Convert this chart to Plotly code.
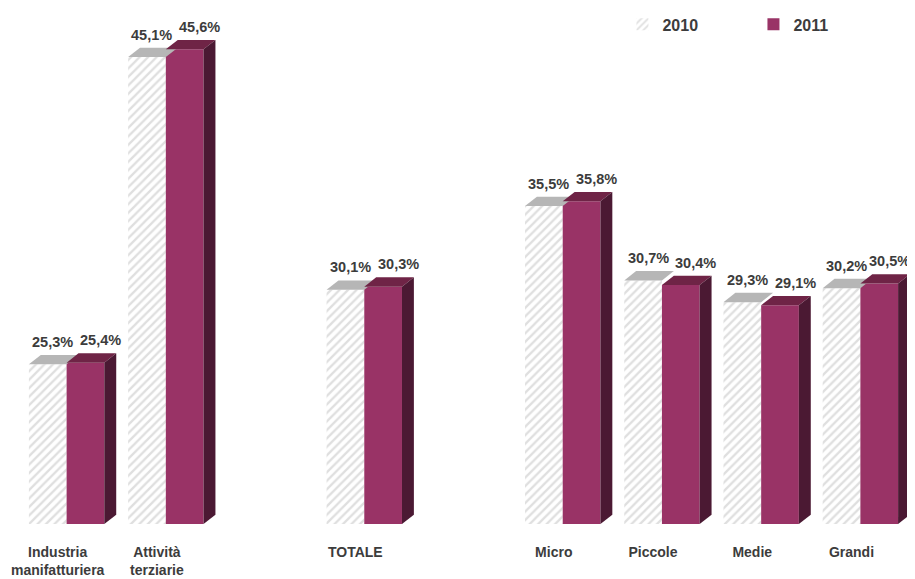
import plotly.graph_objects as go

# ---- data ----
categories = ["Industria<br>manifatturiera", "Attività<br>terziarie", "TOTALE",
              "Micro", "Piccole", "Medie", "Grandi"]
series_names = ["2010", "2011"]
values_2010 = [25.3, 45.1, 30.1, 35.5, 30.7, 29.3, 30.2]
values_2011 = [25.4, 45.6, 30.3, 35.8, 30.4, 29.1, 30.5]

# ---- layout constants ----
GAP_AFTER = {1, 2}          # empty slot inserted after these category indexes
BASE = 15.0                 # axis minimum
Y_MAX = 48.13
BW = 0.38                   # bar width (axis units)
DX, DY = 0.12, 0.6          # 3-D depth offsets
W, H = 907, 571
ML, MR, MT, MB = 9.44, 5.4, 2, 55
HATCH_BG = "white"
HATCH_FG = "#bfbfbf"
TOP_2010 = "#b6b6b6"
FRONT_2011 = "#993366"
TOP_2011 = "#6f2446"
SIDE_2011 = "#4b1933"
TXT = "#3c3c3c"
FONT = "Liberation Sans, Arial, sans-serif"

pos = []
p = 0
for i in range(len(categories)):
    pos.append(p)
    p += 2 if i in GAP_AFTER else 1

X_RANGE = [-0.5, pos[-1] + 0.5]
px_per_unit = (W - ML - MR) / (X_RANGE[1] - X_RANGE[0])

def fmt(v):
    return f"{v:.1f}".replace(".", ",") + "%"

fig = go.Figure()

def poly(xs, ys, color):
    fig.add_trace(go.Scatter(x=xs + [xs[0]], y=ys + [ys[0]], mode="lines",
                             fill="toself", fillcolor=color,
                             line=dict(width=0, color=color),
                             hoverinfo="skip", showlegend=False))

# 2010 front faces (hatched)
fig.add_trace(go.Bar(
    x=[c - BW / 2 for c in pos], y=values_2010, width=BW, name=series_names[0],
    marker=dict(color=HATCH_BG, line=dict(width=0),
                pattern=dict(shape="/", fgcolor=HATCH_FG, bgcolor=HATCH_BG,
                             size=6, solidity=0.38)),
    hovertemplate="%{y:.1f}%<extra>2010</extra>"))

# 2010 top faces
for c, v in zip(pos, values_2010):
    x0, x1 = c - BW, c
    poly([x0, x1, x1 + DX, x0 + DX], [v, v, v + DY, v + DY], TOP_2010)

# 2011 front faces
fig.add_trace(go.Bar(
    x=[c + BW / 2 for c in pos], y=values_2011, width=BW, name=series_names[1],
    marker=dict(color=FRONT_2011, line=dict(width=0)),
    hovertemplate="%{y:.1f}%<extra>2011</extra>"))

# 2011 top and side faces
for c, v in zip(pos, values_2011):
    x0, x1 = c, c + BW
    poly([x0, x1, x1 + DX, x0 + DX], [v, v, v + DY, v + DY], TOP_2011)
    poly([x1, x1 + DX, x1 + DX, x1], [BASE, BASE + DY, v + DY, v], SIDE_2011)

def label_shift(xc, wanted):
    # keep the label (about 42 px wide) inside the figure
    px = ML + (xc - X_RANGE[0]) * px_per_unit + wanted
    limit = W - 26
    return wanted - max(0, px - limit)

annotations = []
for c, v in zip(pos, values_2010):
    xc = c - BW / 2
    annotations.append(dict(x=xc, y=v + DY, text=fmt(v), showarrow=False,
                            xanchor="center", yanchor="bottom",
                            xshift=label_shift(xc, 5), yshift=3,
                            font=dict(family=FONT, size=14.5, color=TXT, weight="bold")))
for c, v in zip(pos, values_2011):
    xc = c + BW / 2
    annotations.append(dict(x=xc, y=v + DY, text=fmt(v), showarrow=False,
                            xanchor="center", yanchor="bottom",
                            xshift=label_shift(xc, 15), yshift=3,
                            font=dict(family=FONT, size=14.5, color=TXT, weight="bold")))

fig.update_layout(
    width=W, height=H,
    margin=dict(l=ML, r=MR, t=MT, b=MB, autoexpand=False),
    paper_bgcolor="white", plot_bgcolor="white",
    barmode="overlay",
    showlegend=True,
    legend=dict(orientation="h", x=0.678, xanchor="left", y=1.005, yanchor="top",
                entrywidth=86, entrywidthmode="pixels",
                font=dict(family=FONT, size=16, color=TXT, weight="bold"),
                bgcolor="rgba(0,0,0,0)"),
    annotations=annotations,
    xaxis=dict(range=X_RANGE, showgrid=False, zeroline=False, automargin=False,
               showline=False, tickmode="array",
               tickvals=[c - 0.09 for c in pos], ticktext=categories,
               ticks="", ticklabelstandoff=18,
               tickfont=dict(family=FONT, size=14, color=TXT, weight="bold")),
    yaxis=dict(range=[BASE, Y_MAX], showgrid=False, zeroline=False, automargin=False,
               showline=False, showticklabels=False, ticks=""),
)

fig.write_html("out.html")
